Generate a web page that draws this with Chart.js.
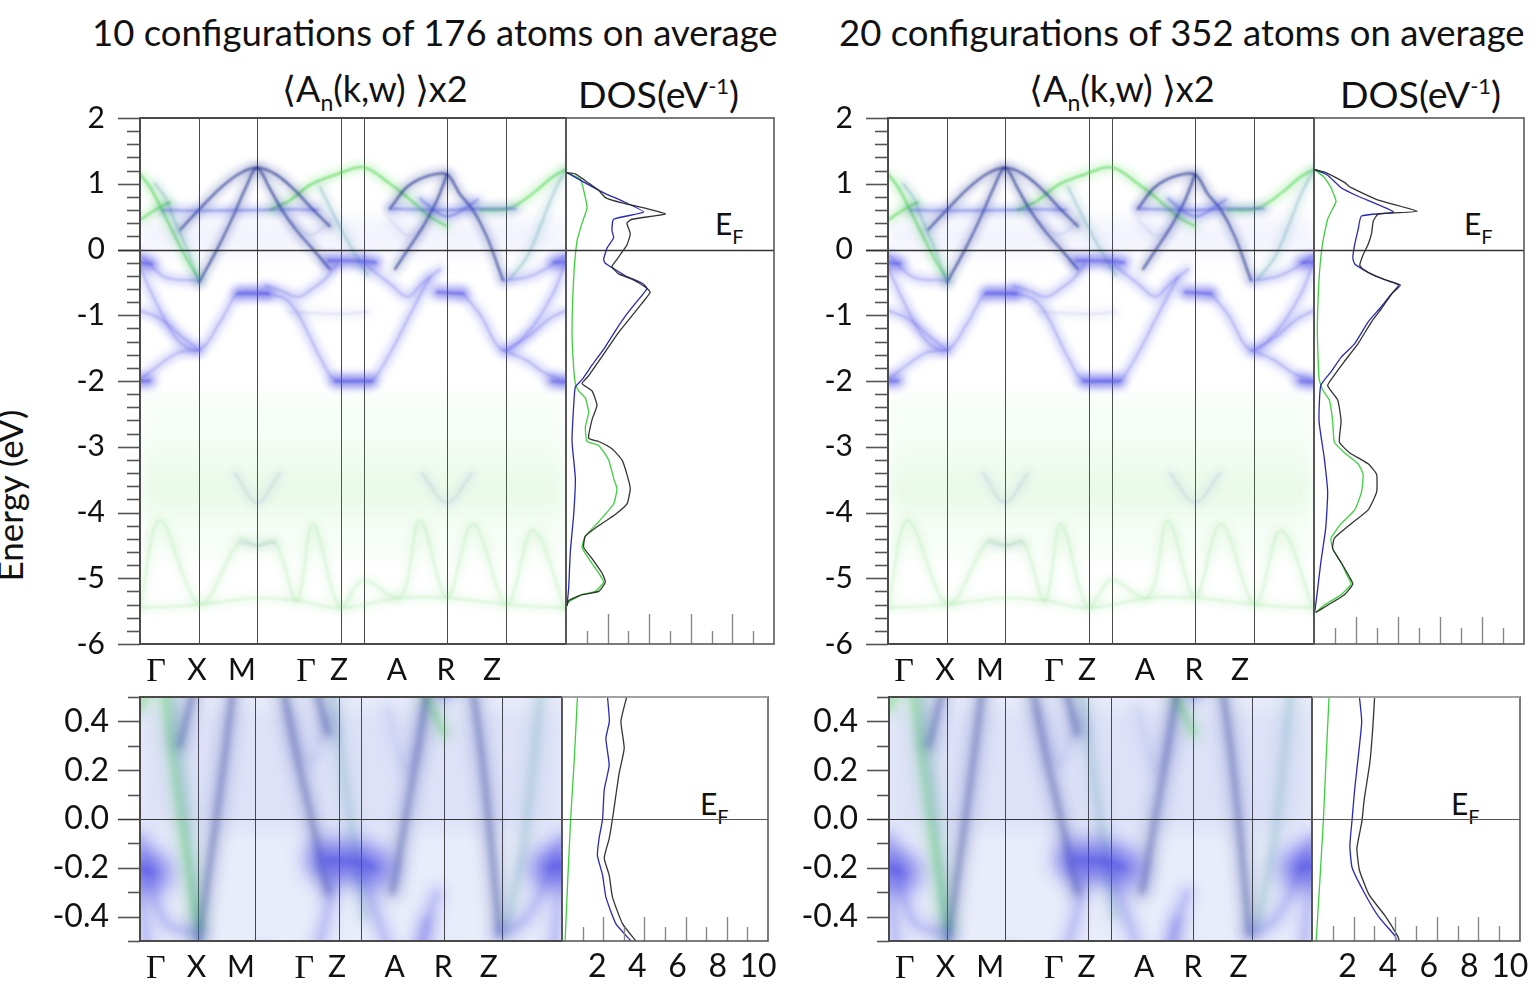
<!DOCTYPE html>
<html>
<head>
<meta charset="utf-8">
<script src="https://cdn.jsdelivr.net/npm/chart.js@4.4.1/dist/chart.umd.min.js"></script>
<style>
  body { margin: 0; background: #fff; width: 1536px; height: 1008px; overflow: hidden; position: relative;
         font-family: Lato, "Open Sans", sans-serif; color: #111; }
  canvas { position: absolute; }
  .t { position: absolute; white-space: nowrap; line-height: 1; }
  .title { font-size: 36.5px; }
  .sub { font-size: 36px; }
  .dos { font-size: 37.5px; }
  .ef { font-size: 30px; }
  .ef sub { font-size: 20px; vertical-align: -9px; }
  .dos sup { font-size: 22px; vertical-align: 14px; }
  .sub small { font-size: 23px; vertical-align: -9px; }
  .ylab { font-size: 35px; transform: rotate(-90deg); transform-origin: center; }
</style>
</head>
<body>
<div class="t title" style="left:92px;top:14px">10 configurations of 176 atoms on average</div>
<div class="t title" style="left:839px;top:14px">20 configurations of 352 atoms on average</div>
<div class="t sub" style="left:282px;top:70px">&#10216;A<small>n</small>(k,w) &#10217;x2</div>
<div class="t sub" style="left:1029px;top:70px">&#10216;A<small>n</small>(k,w) &#10217;x2</div>
<div class="t dos" style="left:578px;top:75px">DOS(eV<sup>-1</sup>)</div>
<div class="t dos" style="left:1340px;top:75px">DOS(eV<sup>-1</sup>)</div>
<div class="t ef" style="left:715px;top:208px">E<sub>F</sub></div>
<div class="t ef" style="left:1464px;top:208px">E<sub>F</sub></div>
<div class="t ef" style="left:700px;top:788px">E<sub>F</sub></div>
<div class="t ef" style="left:1451px;top:788px">E<sub>F</sub></div>
<div class="t ylab" style="left:-76px;top:478px">Energy (eV)</div>

<canvas id="specTopL"></canvas>
<canvas id="specTopR"></canvas>
<canvas id="specZoomL"></canvas>
<canvas id="specZoomR"></canvas>
<canvas id="dosTopL"></canvas>
<canvas id="dosTopR"></canvas>
<canvas id="dosZoomL"></canvas>
<canvas id="dosZoomR"></canvas>

<script>
Chart.defaults.font.family = 'Lato, "Open Sans", sans-serif';
Chart.defaults.color = '#111';

// k path (distance along path, panel units)
const kLines = [0, 59, 117, 201, 224, 307, 366, 426];
const kLabels = ['\u0393', 'X', 'M', '\u0393', 'Z', 'A', 'R', 'Z'];
const kLabelPos = [16, 57, 102, 166, 199, 257, 306, 352];

// energy ticks
const yTicksFull = [-6, -5, -4, -3, -2, -1, 0, 1, 2];
const yLabelsFull = ['-6', '-5', '-4', '-3', '-2', '-1', '0', '1', '2'];
const yTicksZoom = [-0.4, -0.2, 0, 0.2, 0.4];
const yLabelsZoom = ['-0.4', '-0.2', '0.0', '0.2', '0.4'];
const dosTickVals = [1, 2, 3, 4, 5, 6, 7, 8, 9];
const dosLabelVals = [2, 4, 6, 8, 10];

// spectral bands, [k, E(eV)]
const domeM1 = [[59,-0.5],[77,0.0],[93,0.5],[106,0.95],[117,1.24],[130,0.92],[142,0.6],[156,0.3],[172,0.02],[190,-0.3]];
const domeM2 = [[40,0.3],[60,0.62],[80,0.93],[100,1.16],[117,1.24],[135,1.15],[155,0.9],[172,0.62],[190,0.35]];
const domeR1 = [[250,0.62],[267,0.95],[288,1.12],[307,1.14],[320,0.84],[333,0.6],[347,0.19],[363,-0.47]];
const domeR2 = [[255,-0.3],[268,0.0],[283,0.35],[297,0.75],[307,1.14]];
const flatUpA = [[22,0.6],[59,0.59],[117,0.6],[150,0.61],[178,0.6]];
const flatUpB = [[250,0.62],[307,0.6],[340,0.62],[376,0.62]];
const vR = [[280,0.78],[294,0.6],[307,0.5],[320,0.58],[338,0.76]];
const vMidA = [[150,0.45],[170,0.22],[190,0.42]];
const vMidB = [[250,0.45],[270,0.2],[290,0.45]];
const xLineA = [[15,1.0],[25,0.8],[33,0.5],[47,0.0],[59,-0.5]];
const greenL1 = [[0,1.15],[10,0.95],[22,0.6],[35,0.2],[47,-0.15],[59,-0.45]];
const greenL2 = [[0,0.45],[15,0.6],[30,0.72]];
const greenZ = [[130,0.6],[150,0.75],[171,0.99],[198,1.15],[224,1.25],[250,1.0],[267,0.8],[290,0.5],[307,0.35]];
const greenZSteep = [[180,0.95],[193,0.55],[205,0.2],[217,-0.12],[228,-0.4]];
const greenEnd = [[340,0.6],[370,0.63],[395,0.88],[412,1.1],[426,1.22]];
const greenEndSteep = [[370,-0.45],[387,-0.11],[400,0.34],[413,0.84],[426,1.22]];
const gamFlatA = [[0,-0.2],[12,-0.22]];
const zFlat = [[188,-0.17],[201,-0.17],[224,-0.18],[236,-0.2]];
const gamFlatB = [[414,-0.2],[426,-0.19]];
const xU = [[0,-0.07],[25,-0.42],[59,-0.47]];
const zU = [[363,-0.47],[387,-0.42],[405,-0.3],[426,-0.08]];
const bandA = [[0,-0.27],[15,-0.77],[38,-1.38],[59,-1.53],[81,-1.08],[98,-0.67],[117,-0.66],[128,-0.67]];
const bandB = [[0,-1.98],[18,-1.77],[38,-1.57],[59,-1.53]];
const bandC = [[0,-0.93],[20,-1.05],[40,-1.3],[59,-1.53]];
const bandC2 = [[366,-1.53],[390,-1.3],[410,-1.05],[426,-0.93]];
const bandD = [[128,-0.67],[145,-0.75],[158,-0.98],[181,-1.67],[195,-1.98],[224,-2.0],[232,-2.0],[250,-1.58],[267,-1.08],[280,-0.7],[290,-0.42]];
const mFlat = [[98,-0.67],[128,-0.67]];
const zFlatLow = [[195,-2.0],[232,-2.0]];
const gamFlatLow = [[0,-2.0],[10,-2.0]];
const endFlatLow = [[412,-2.0],[426,-2.02]];
const bandE = [[125,-0.55],[140,-0.62],[158,-0.72],[172,-0.6],[185,-0.45],[198,-0.2]];
const bandF = [[150,-0.95],[201,-0.98],[228,-0.95]];
const bandG = [[224,-0.2],[233,-0.32],[250,-0.52],[267,-0.72],[280,-0.55],[290,-0.42],[300,-0.3]];
const rFlat = [[297,-0.65],[323,-0.67]];
const bandH = [[323,-0.67],[340,-0.99],[363,-1.53],[387,-1.28],[413,-0.67],[426,-0.17]];
const bandI = [[363,-1.53],[387,-1.69],[405,-1.88],[426,-2.0]];
const lowBlueM = [[95,-3.4],[117,-3.85],[140,-3.4]];
const lowBlueR = [[282,-3.4],[307,-3.85],[332,-3.4]];
const lowBlueM2 = [[100,-4.45],[117,-4.5],[135,-4.45]];
const greenLowZig = [[0,-5.45],[20,-4.12],[60,-5.39],[100,-4.43],[117,-4.5],[135,-4.45],[157,-5.34],[173,-4.17],[200,-5.44],[223,-5.03],[260,-5.29],[280,-4.12],[307,-5.29],[333,-4.17],[367,-5.39],[393,-4.27],[426,-5.49]];
const greenLowFlat = [[0,-5.45],[60,-5.4],[117,-5.3],[157,-5.34],[200,-5.45],[260,-5.3],[307,-5.3],[367,-5.4],[426,-5.45]];

// diffuse weight: centre energies (eV)
const hazeGreenE = [-2.5, -3.05, -3.5, -3.85, -4.35];
const hazeBlueE = [0.2];

// DOS curves, [E(eV), DOS(1/eV)]
const dosTotal10 = [[1.17,0.05],[1.15,0.45],[1.01,1.09],[0.90,1.57],[0.79,1.89],[0.71,2.69],[0.63,3.81],[0.54,4.77],[0.46,3.17],[0.40,2.93],[0.24,3.09],[0.07,2.93],[-0.04,2.69],[-0.15,2.45],[-0.26,2.21],[-0.37,2.53],[-0.45,3.17],[-0.57,3.81],[-0.65,4.05],[-0.82,3.65],[-1.04,3.09],[-1.26,2.53],[-1.48,2.05],[-1.70,1.57],[-1.92,1.09],[-2.04,0.77],[-2.15,1.25],[-2.37,1.49],[-2.59,1.25],[-2.87,1.09],[-2.92,1.57],[-3.03,2.21],[-3.20,2.69],[-3.42,2.93],[-3.64,3.09],[-3.87,2.93],[-4.03,2.37],[-4.20,1.57],[-4.36,0.93],[-4.53,0.85],[-4.70,1.25],[-4.92,1.73],[-5.06,1.89],[-5.20,1.57],[-5.25,0.77],[-5.34,0.13],[-5.42,0.03]];
const dosBlue10 = [[1.17,0.05],[1.04,0.77],[0.85,1.89],[0.74,2.69],[0.57,3.73],[0.46,2.29],[0.29,2.21],[0.18,2.29],[0.02,1.97],[-0.15,1.81],[-0.21,1.89],[-0.29,2.29],[-0.40,2.85],[-0.51,3.65],[-0.59,3.89],[-0.76,3.49],[-0.98,2.93],[-1.20,2.45],[-1.48,1.89],[-1.76,1.25],[-1.98,0.77],[-2.09,0.45],[-2.37,0.37],[-2.92,0.29],[-3.48,0.45],[-4.03,0.37],[-4.59,0.21],[-5.14,0.13],[-5.42,0.05]];
const dosGreen10 = [[1.17,0.05],[1.07,0.69],[0.79,0.93],[0.63,1.01],[0.40,0.77],[0.13,0.53],[-0.43,0.37],[-1.26,0.29],[-1.81,0.37],[-2.04,0.45],[-2.15,0.61],[-2.26,0.93],[-2.48,1.09],[-2.70,0.93],[-2.92,1.01],[-2.98,1.57],[-3.20,2.05],[-3.48,2.29],[-3.64,2.45],[-3.87,2.29],[-4.14,1.57],[-4.36,0.93],[-4.53,0.77],[-4.70,1.09],[-4.92,1.57],[-5.06,1.81],[-5.20,1.41],[-5.25,0.77],[-5.36,0.13],[-5.45,0.0]];
const dosTotal20 = [[1.22,0.0],[1.18,0.48],[1.02,1.45],[0.94,1.77],[0.75,3.06],[0.58,4.92],[0.54,3.06],[0.43,2.82],[0.24,2.74],[0.08,2.58],[-0.08,2.34],[-0.24,2.18],[-0.30,2.34],[-0.40,2.90],[-0.48,3.55],[-0.54,4.03],[-0.67,3.71],[-0.89,3.23],[-1.10,2.74],[-1.43,2.10],[-1.70,1.45],[-1.91,0.97],[-2.07,0.65],[-2.29,1.13],[-2.61,1.29],[-2.93,1.21],[-3.09,1.69],[-3.26,2.58],[-3.42,2.98],[-3.69,2.98],[-3.96,2.58],[-4.17,1.77],[-4.39,0.97],[-4.55,0.89],[-4.76,1.29],[-4.98,1.69],[-5.09,1.85],[-5.25,1.45],[-5.41,0.65],[-5.52,0.08]];
const dosBlue20 = [[1.22,0.0],[1.13,0.65],[0.94,1.29],[0.81,2.10],[0.57,3.79],[0.51,2.26],[0.30,2.10],[0.08,1.94],[-0.13,1.85],[-0.22,1.94],[-0.35,2.58],[-0.46,3.39],[-0.54,4.11],[-0.67,3.71],[-0.89,3.15],[-1.10,2.58],[-1.43,1.94],[-1.64,1.29],[-1.86,0.81],[-2.07,0.32],[-2.61,0.24],[-3.15,0.48],[-3.69,0.65],[-4.23,0.56],[-4.77,0.32],[-5.31,0.12],[-5.52,0.03]];
const dosGreen20 = [[1.22,0.0],[1.10,0.48],[0.94,0.81],[0.73,1.05],[0.62,0.89],[0.46,0.65],[0.08,0.40],[-0.46,0.24],[-1.26,0.16],[-1.96,0.24],[-2.13,0.40],[-2.29,0.73],[-2.61,0.89],[-2.93,0.97],[-3.09,1.45],[-3.26,2.10],[-3.42,2.34],[-3.69,2.26],[-3.96,1.94],[-4.17,1.29],[-4.39,0.81],[-4.55,0.89],[-4.76,1.29],[-4.98,1.61],[-5.09,1.77],[-5.25,1.29],[-5.41,0.48],[-5.52,0.08]];
const dosTotal10z = [[0.5,3.14],[0.4,2.86],[0.29,3.02],[0.19,2.78],[0.1,2.62],[0.0,2.45],[-0.08,2.29],[-0.16,2.05],[-0.23,2.29],[-0.32,2.45],[-0.43,2.94],[-0.5,3.59]];
const dosBlue10z = [[0.5,2.21],[0.4,2.3],[0.33,2.13],[0.22,2.29],[0.12,2.05],[0.0,1.97],[-0.08,1.8],[-0.15,1.72],[-0.23,1.97],[-0.32,2.13],[-0.43,2.62],[-0.5,3.35]];
const dosGreen10z = [[0.5,0.75],[0.25,0.6],[0.0,0.42],[-0.25,0.28],[-0.5,0.15]];
const dosTotal20z = [[0.5,3.01],[0.37,2.92],[0.23,2.78],[0.08,2.51],[-0.01,2.4],[-0.12,2.16],[-0.21,2.28],[-0.31,2.74],[-0.4,3.54],[-0.48,4.12],[-0.5,4.2]];
const dosBlue20z = [[0.5,2.28],[0.4,2.39],[0.26,2.23],[0.12,2.05],[0.0,1.93],[-0.11,1.82],[-0.2,1.93],[-0.3,2.5],[-0.4,3.2],[-0.48,4.0],[-0.5,4.05]];
const dosGreen20z = [[0.5,0.82],[0.25,0.68],[0.0,0.55],[-0.25,0.38],[-0.5,0.2]];

// which look each band gets
const bandSet = [
  [greenLowFlat, 'faintGreen'], [greenLowZig, 'faintGreen'],
  [lowBlueM, 'faint'], [lowBlueR, 'faint'], [lowBlueM2, 'faint'],
  [bandB, 'violet'], [bandC, 'violet'], [bandC2, 'violet'], [bandI, 'violet'],
  [bandF, 'faint'], [bandA, 'violet'], [bandD, 'violet'], [bandE, 'violet'],
  [bandG, 'violet'], [bandH, 'violet'], [xU, 'violet'], [zU, 'violet'],
  [mFlat, 'strong'], [rFlat, 'strong'], [zFlatLow, 'strong'], [gamFlatLow, 'strong'], [endFlatLow, 'strong'],
  [gamFlatA, 'strong'], [zFlat, 'strong'], [gamFlatB, 'strong'],
  [vMidA, 'faint'], [vMidB, 'faint'],
  [flatUpA, 'blue'], [flatUpB, 'blue'], [vR, 'blue'], [xLineA, 'teal'],
  [domeM2, 'navy'], [domeM1, 'navy'], [domeR1, 'navy'], [domeR2, 'navy'],
  [greenL2, 'green'], [greenL1, 'green'], [greenZSteep, 'teal'], [greenEndSteep, 'teal'],
  [greenZ, 'green'], [greenEnd, 'green']
];

const bandStyles = {
  navy:   { rgb: '20,40,135',  wide: 0.28, core: 0.78 },
  blue:   { rgb: '60,75,215',  wide: 0.30, core: 0.48 },
  violet: { rgb: '95,95,232',  wide: 0.32, core: 0.34 },
  strong: { rgb: '70,70,228',  wide: 0.55, core: 0.45, mul: 1.5, zoomBoost: 1.6 },
  green:  { rgb: '80,215,80',  wide: 0.28, core: 0.8 },
  teal:   { rgb: '80,160,170', wide: 0.22, core: 0.40 },
  faint:  { rgb: '90,100,200', wide: 0.10, core: 0.14 },
  faintGreen: { rgb: '100,210,100', wide: 0.12, core: 0.20 }
};

const lookTop = { wide: 8, wideBlur: 4, core: 1.8, coreBlur: 0.8, wideMul: 1, coreMul: 1, zoom: false,
                  haze: [34, 30, 30, 26, 40], hazeAlpha: [0.06, 0.09, 0.13, 0.12, 0.06], hazeBlur: 9, blueHaze: 34 };
const lookZoom = { wide: 16, wideBlur: 7, core: 4, coreBlur: 3, wideMul: 0.8, coreMul: 0.55, zoom: true,
                   haze: [0, 0, 0, 0, 0], hazeAlpha: [0, 0, 0, 0, 0], hazeBlur: 10, blueHaze: 120 };

// plugin: blur per dataset, frame, tick marks, Fermi line
const panelDecor = {
  id: 'panelDecor',
  beforeDraw(chart, args, o) {
    if (!o.background) return;
    const { ctx, chartArea: a } = chart;
    ctx.save();
    ctx.fillStyle = o.background;
    ctx.fillRect(a.left, a.top, a.right - a.left, a.bottom - a.top);
    ctx.restore();
  },
  beforeDatasetDraw(chart, args) {
    const ds = chart.data.datasets[args.index];
    if (ds.blurPx) { chart.ctx.save(); chart.ctx.filter = 'blur(' + ds.blurPx + 'px)'; }
  },
  afterDatasetDraw(chart, args) {
    const ds = chart.data.datasets[args.index];
    if (ds.blurPx) chart.ctx.restore();
  },
  afterDraw(chart, args, o) {
    const { ctx, chartArea: a, scales } = chart;
    const y = scales.y, x = scales.x;
    ctx.save();
    if (o.yTicks) {
      const t = o.yTicks;
      ctx.strokeStyle = '#555';
      ctx.lineWidth = 1.6;
      const n = Math.round((y.max - y.min) / t.minorStep);
      for (let i = 0; i <= n; i++) {
        const v = y.min + i * t.minorStep;
        const isMajor = Math.abs(v / t.majorStep - Math.round(v / t.majorStep)) < 1e-6;
        const len = isMajor ? t.majorLen : t.minorLen;
        const py = Math.round(y.getPixelForValue(v)) + 0.5;
        ctx.beginPath();
        ctx.moveTo(a.left - len, py);
        ctx.lineTo(a.left, py);
        ctx.stroke();
      }
    }
    if (o.ef) {
      const py = Math.round(y.getPixelForValue(0)) + 0.5;
      ctx.strokeStyle = o.ef.color;
      ctx.lineWidth = o.ef.width;
      ctx.beginPath();
      ctx.moveTo(a.left - (o.ef.extend || 0), py);
      ctx.lineTo(a.right, py);
      ctx.stroke();
    }
    if (o.dosTicks) {
      const t = o.dosTicks;
      ctx.strokeStyle = '#888';
      ctx.lineWidth = 1.4;
      dosTickVals.forEach(v => {
        const px = Math.round(x.getPixelForValue(v)) + 0.5;
        const len = v % 2 === 0 ? t.longLen : t.shortLen;
        ctx.beginPath();
        ctx.moveTo(px, a.bottom);
        ctx.lineTo(px, a.bottom - len);
        ctx.stroke();
      });
    }
    ctx.strokeStyle = o.frameColor;
    ctx.lineWidth = o.frameWidth;
    ctx.strokeRect(a.left, a.top, a.right - a.left, a.bottom - a.top);
    if (o.topColor) {
      ctx.strokeStyle = o.topColor;
      ctx.beginPath();
      ctx.moveTo(a.left, a.top);
      ctx.lineTo(a.right, a.top);
      ctx.stroke();
    }
    ctx.restore();
  }
};

function placeCanvas(id, left, top, w, h) {
  const c = document.getElementById(id);
  c.width = w; c.height = h;
  c.style.left = left + 'px'; c.style.top = top + 'px';
  c.style.width = w + 'px'; c.style.height = h + 'px';
  return c;
}

function toXY(pts) { return pts.map(p => ({ x: p[0], y: p[1] })); }

// keep scale label overflow from moving the plot box
function noOverflow(s) { s.paddingTop = 0; s.paddingBottom = 0; s.paddingLeft = 0; s.paddingRight = 0; }

function spectralDatasets(look) {
  const out = [];
  hazeGreenE.forEach((e, i) => {
    if (!look.haze[i]) return;
    out.push({ data: [{ x: 0, y: e }, { x: 426, y: e }], borderColor: 'rgba(110,220,110,' + look.hazeAlpha[i] + ')',
      borderWidth: look.haze[i], blurPx: look.hazeBlur, pointRadius: 0, tension: 0, clip: 0 });
  });
  hazeBlueE.forEach(e => {
    out.push({ data: [{ x: 0, y: e }, { x: 426, y: e }], borderColor: 'rgba(110,120,235,0.09)',
      borderWidth: look.blueHaze, blurPx: look.hazeBlur, pointRadius: 0, tension: 0, clip: 0 });
  });
  bandSet.forEach(([pts, name]) => {
    const st = bandStyles[name];
    const mul = st.mul || 1;
    const boost = look.zoom && st.zoomBoost ? st.zoomBoost : 1;
    const data = toXY(pts);
    const wa = Math.min(1, st.wide * look.wideMul * boost);
    const ca = Math.min(1, st.core * look.coreMul * boost);
    out.push({ data, borderColor: 'rgba(' + st.rgb + ',' + wa + ')', borderWidth: look.wide * mul * boost,
      blurPx: look.wideBlur * boost, pointRadius: 0, tension: 0.35, clip: 0, borderCapStyle: 'round' });
    out.push({ data, borderColor: 'rgba(' + st.rgb + ',' + ca + ')', borderWidth: look.core * mul,
      blurPx: look.coreBlur, pointRadius: 0, tension: 0.35, clip: 0, borderCapStyle: 'round' });
  });
  return out;
}

function spectralChart(id, box, zoom) {
  const left = box.left - 140, top = box.top - 38;
  const c = placeCanvas(id, left, top, box.right - left + 10, box.bottom - top + 56);
  const look = zoom ? lookZoom : lookTop;
  const yVals = zoom ? yTicksZoom : yTicksFull;
  const yLabs = zoom ? yLabelsZoom : yLabelsFull;
  return new Chart(c, {
    type: 'line',
    data: { datasets: spectralDatasets(look) },
    options: {
      responsive: false, animation: false, events: [],
      layout: { padding: { top: 38, right: 10, left: 0, bottom: 0 } },
      plugins: {
        legend: { display: false }, tooltip: { enabled: false },
        panelDecor: {
          background: zoom ? 'rgb(233,236,250)' : null,
          yTicks: zoom ? { minorStep: 0.1, majorStep: 0.2, majorLen: 22, minorLen: 12 }
                       : { minorStep: 0.2, majorStep: 1, majorLen: 22, minorLen: 13 },
          ef: { color: '#333', width: zoom ? 1.2 : 1.6, extend: 22 },
          frameColor: '#4a4a4a', frameWidth: 2
        }
      },
      scales: {
        x: {
          type: 'linear', min: 0, max: 426, position: 'bottom', z: 1,
          afterBuildTicks: s => { s.ticks = kLines.map(v => ({ value: v })); },
          grid: { color: 'rgba(40,40,40,0.85)', lineWidth: 1, drawTicks: false },
          border: { display: false },
          ticks: { display: false },
          afterFit: s => { s.height = 0; noOverflow(s); }
        },
        xl: {
          type: 'linear', min: 0, max: 426, position: 'bottom',
          afterBuildTicks: s => { s.ticks = kLabelPos.map(v => ({ value: v })); },
          grid: { display: false, drawTicks: false },
          border: { display: false },
          ticks: {
            autoSkip: false, maxRotation: 0, padding: 8, color: '#111',
            callback: (v, i) => kLabels[i],
            font: ctx => kLabels[ctx.index] === '\u0393'
              ? { family: '"Liberation Serif", "DejaVu Serif", serif', size: 34 }
              : { family: 'Lato, "Open Sans", sans-serif', size: 30 }
          },
          afterFit: s => { s.height = 56; noOverflow(s); }
        },
        y: {
          type: 'linear', min: zoom ? -0.5 : -6, max: zoom ? 0.5 : 2, position: 'left',
          afterBuildTicks: s => { s.ticks = yVals.map(v => ({ value: v })); },
          grid: { display: false, drawTicks: false },
          border: { display: false },
          ticks: { padding: zoom ? 31 : 35, color: '#111', font: { size: zoom ? 32 : 30 },
                   callback: (v, i) => yLabs[i] },
          afterFit: s => { s.width = 140; noOverflow(s); }
        }
      }
    },
    plugins: [panelDecor]
  });
}

function dosChart(id, box, zoom, curves, tickLens) {
  const padR = zoom ? 22 : 10;
  const left = box.left - 10, top = box.top - 38;
  const c = placeCanvas(id, left, top, box.right - left + padR, box.bottom - top + (zoom ? 50 : 10));
  const colors = ['rgba(40,40,40,0.95)', 'rgba(30,30,175,0.95)', 'rgba(50,205,50,0.95)'];
  const datasets = curves.map((pts, i) => ({
    data: pts.map(p => ({ x: p[1], y: p[0] })),
    borderColor: colors[i], borderWidth: 1.3, pointRadius: 0, tension: 0.15, clip: 0
  }));
  const scales = {
    x: { type: 'linear', min: 0, max: 10, display: false },
    y: { type: 'linear', min: zoom ? -0.5 : -6, max: zoom ? 0.5 : 2, display: false }
  };
  if (zoom) {
    scales.xl = {
      type: 'linear', min: 0.25, max: 10.5, position: 'bottom',
      afterBuildTicks: s => { s.ticks = dosLabelVals.map(v => ({ value: v })); },
      grid: { display: false, drawTicks: false }, border: { display: false },
      ticks: { autoSkip: false, maxRotation: 0, padding: 6, color: '#111', font: { size: 32 } },
      afterFit: s => { s.height = 50; noOverflow(s); }
    };
  }
  return new Chart(c, {
    type: 'line',
    data: { datasets },
    options: {
      responsive: false, animation: false, events: [],
      layout: { padding: { top: 38, right: padR, left: 10, bottom: zoom ? 0 : 10 } },
      plugins: {
        legend: { display: false }, tooltip: { enabled: false },
        panelDecor: {
          ef: { color: zoom ? '#555' : '#333', width: zoom ? 1 : 1.6, extend: 0 },
          dosTicks: tickLens,
          frameColor: '#5a5a5a', frameWidth: 1.6,
          topColor: zoom ? '#b0b0b0' : null
        }
      },
      scales
    },
    plugins: [panelDecor]
  });
}

spectralChart('specTopL', { left: 140, top: 118, right: 566, bottom: 644 }, false);
spectralChart('specTopR', { left: 888, top: 118, right: 1314, bottom: 644 }, false);
spectralChart('specZoomL', { left: 140, top: 697, right: 562, bottom: 941 }, true);
spectralChart('specZoomR', { left: 889, top: 697, right: 1312, bottom: 941 }, true);

dosChart('dosTopL', { left: 566, top: 118, right: 774, bottom: 644 }, false,
  [dosTotal10, dosBlue10, dosGreen10], { longLen: 30, shortLen: 13 });
dosChart('dosTopR', { left: 1314, top: 118, right: 1524, bottom: 644 }, false,
  [dosTotal20, dosBlue20, dosGreen20], { longLen: 27, shortLen: 16 });
dosChart('dosZoomL', { left: 562, top: 697, right: 768, bottom: 941 }, true,
  [dosTotal10z, dosBlue10z, dosGreen10z], { longLen: 24, shortLen: 14 });
dosChart('dosZoomR', { left: 1312, top: 697, right: 1520, bottom: 941 }, true,
  [dosTotal20z, dosBlue20z, dosGreen20z], { longLen: 24, shortLen: 15 });
</script>
</body>
</html>
